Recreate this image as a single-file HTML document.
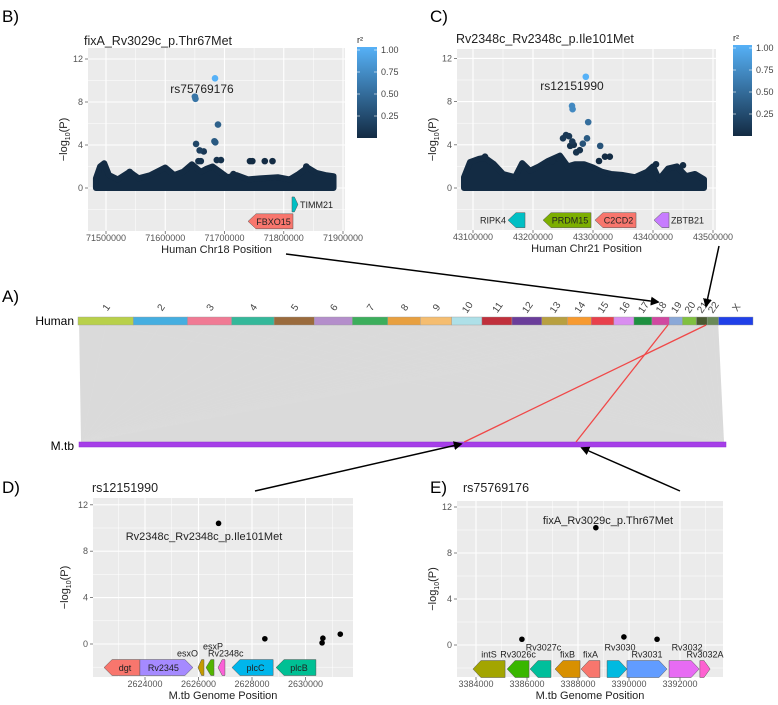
<!DOCTYPE html>
<html><head><meta charset="utf-8">
<style>
html,body{margin:0;padding:0;background:#fff;}
svg{display:block;font-family:"Liberation Sans",sans-serif;}
</style></head>
<body>
<svg id="fig" width="778" height="705" viewBox="0 0 778 705" xmlns="http://www.w3.org/2000/svg">
<defs>
<linearGradient id="cbar" x1="0" y1="1" x2="0" y2="0">
<stop offset="0" stop-color="#132b43"/><stop offset="1" stop-color="#56b1f7"/>
</linearGradient>
<marker id="ah" viewBox="0 0 10 10" refX="8" refY="5" markerWidth="6" markerHeight="6" orient="auto-start-reverse">
<path d="M0,0 L10,5 L0,10 z" fill="#000"/>
</marker>
</defs>
<g id="panelA"></g>
<g id="panels"></g>
<g id="arrows"></g>
</svg>
<script>
// ---------- DATA ----------
const chromNames = ["1","2","3","4","5","6","7","8","9","10","11","12","13","14","15","16","17","18","19","20","21","22","X"];
const chromLengthsMb = [249,243,198,191,181,171,159,146,141,136,135,134,115,107,102,90,81,78,59,63,48,51,155];
const chromColors = ["#b8d04a","#45aee0","#f07a94","#34b89a","#9a6b3d","#b48ecb","#3cae5c","#e8a040","#f5bd70","#aee0e8","#c0303c","#6a3d9a","#b8a040","#f79a30","#e8404c","#d98ef0","#1e9040","#d048a0","#8aa8d8","#80c040","#4a5a30","#6a8a58","#2040e8"];
const mtbGenomeLength = 4411532;
// highlighted links: [chromIndex, human pos Mb, M.tb pos]
const highlightLinks = [[17,71.7,3388700],[20,43.29,2626750]];

// Panel B (chr18)
const bBand = [[71483000,0.9],[71490000,2.0],[71497000,2.3],[71505000,1.2],[71520000,0.8],[71540000,1.5],[71555000,0.9],[71575000,1.2],[71600000,1.9],[71615000,1.2],[71630000,1.5],[71645000,2.2],[71660000,1.5],[71670000,1.8],[71680000,2.0],[71690000,1.6],[71705000,1.0],[71720000,1.2],[71740000,0.8],[71760000,0.9],[71790000,1.0],[71810000,0.8],[71825000,1.3],[71840000,1.9],[71855000,1.4],[71870000,1.2],[71884000,1.1]];
const bPos = [71684000,71650000,71651000,71689000,71683000,71684500,71652000,71658000,71665000,71656000,71660000,71687000,71694000,71743000,71747000,71768000,71781000,71715000,71540000,71838000];
const bLogP = [10.2,8.5,8.3,5.9,4.35,4.25,4.1,3.5,3.4,2.5,2.5,2.6,2.6,2.5,2.5,2.5,2.5,1.3,1.5,2.0];
const bR2 = [1.0,0.55,0.55,0.4,0.35,0.35,0.2,0.15,0.1,0.05,0.05,0.05,0.05,0,0,0,0,0,0,0];
const bGenes = [["TIMM21",71813900,71824000,"+","#00bfc4",-1.53,"right"],["FBXO15",71739700,71815600,"-","#f8766d",-3.1,"in"]];
const bXTicks = [71500000,71600000,71700000,71800000,71900000];

// Panel C (chr21)
const cBand = [[43085000,1.0],[43095000,2.4],[43110000,2.7],[43120000,2.8],[43135000,2.2],[43150000,1.3],[43170000,1.0],[43182000,2.3],[43195000,1.6],[43210000,2.0],[43225000,2.5],[43245000,3.0],[43258000,2.0],[43270000,2.2],[43285000,2.2],[43300000,1.9],[43315000,1.5],[43330000,1.3],[43350000,1.2],[43370000,1.0],[43390000,1.5],[43400000,2.0],[43410000,0.8],[43425000,1.8],[43440000,2.0],[43455000,1.1],[43470000,1.3],[43485000,0.8]];
const cPos = [43288000,43265000,43266000,43292000,43290000,43283000,43312000,43250000,43255000,43260000,43265500,43262000,43272000,43278000,43268000,43243000,43232000,43320000,43328000,43310000,43120000,43405000,43450000];
const cLogP = [10.3,7.6,7.3,6.1,4.6,4.1,3.9,4.6,4.9,4.8,4.3,3.9,3.3,3.5,4.0,2.7,2.5,2.9,2.9,2.5,2.9,2.2,2.1];
const cR2 = [1.0,0.7,0.7,0.5,0.35,0.3,0.3,0.1,0.1,0.1,0.1,0.05,0.05,0.05,0.05,0,0,0,0,0,0,0,0];
const cGenes = [["RIPK4",43158300,43186700,"-","#00bfc4",-2.98,"left"],["PRDM15",43216700,43296700,"-","#7cae00",-2.98,"in"],["C2CD2",43303300,43371700,"-","#f8766d",-2.98,"in"],["ZBTB21",43401700,43426700,"-","#c77cff",-2.98,"right"]];
const cXTicks = [43100000,43200000,43300000,43400000,43500000];

// Panel D (M.tb around Rv2348c)
const dPos = [2626750,2628480,2630620,2630650,2631300];
const dLogP = [10.4,0.45,0.1,0.5,0.85];
const dGenes = [["dgt",2622470,2623810,"-","#f8766d",-2.03,"in"],["Rv2345",2623810,2625790,"+","#a58aff",-2.03,"in"],["esxO",2625980,2626205,"-","#c49a00",-2.03,"aboveL"],["esxP",2626280,2626580,"-","#53b400",-2.03,"above2"],["Rv2348c",2626730,2626990,"-","#fb61d7",-2.03,"aboveR"],["plcC",2627250,2628790,"-","#00b6eb",-2.03,"in"],["plcB",2628900,2630390,"-","#00c094",-2.03,"in"]];
const dXTicks = [2624000,2626000,2628000,2630000];

// Panel E (M.tb around fixA)
const ePos = [3388700,3385800,3389800,3391100];
const eLogP = [10.2,0.5,0.7,0.5];
const eGenes = [["intS",3383880,3385140,"-","#a3a500",-2.09,"above"],["Rv3026c",3385220,3386080,"-","#39b600",-2.09,"above"],["Rv3027c",3386120,3386940,"-","#00bf9b",-2.09,"above2"],["fixB",3387100,3388080,"-","#d89000",-2.09,"above"],["fixA",3388120,3388860,"-","#f8766d",-2.09,"above"],["Rv3030",3389140,3389920,"+","#00bae0",-2.09,"above2"],["Rv3031",3389920,3391490,"+","#619cff",-2.09,"above"],["Rv3032",3391570,3392750,"+","#e76bf3",-2.09,"above2"],["Rv3032A",3392780,3393180,"+","#fd61d1",-2.09,"above"]];
const eXTicks = [3384000,3386000,3388000,3390000,3392000];

const yTicks = [0,4,8,12];
const cbTicks = [0.25,0.5,0.75,1.0];

// ---------- DRAWING ----------
const NS="http://www.w3.org/2000/svg";
function mk(tag,attrs,parent,text){const e=document.createElementNS(NS,tag);for(const k in attrs)e.setAttribute(k,attrs[k]);if(text!==undefined)e.textContent=text;parent.appendChild(e);return e;}
function lerpColor(t){const a=[0x13,0x2b,0x43],b=[0x56,0xb1,0xf7];return "rgb("+a.map((v,i)=>Math.round(v+(b[i]-v)*t)).join(",")+")";}

// Panel A
const A=document.getElementById("panelA");
const hx0=78,hx1=753,hy=317,hh=8,mx0=79,mx1=726,my=442,mh=5;
const totalMb=chromLengthsMb.reduce((s,v)=>s+v,0);
function hX(ci,mb){let s=0;for(let i=0;i<ci;i++)s+=chromLengthsMb[i];return hx0+(s+mb)/totalMb*(hx1-hx0);}
function mX(p){return mx0+p/mtbGenomeLength*(mx1-mx0);}
let t=mk("text",{x:2,y:302,"font-size":17,fill:"#000"},A,"A)");


let lab=mk("text",{x:74,y:325,"font-size":12,"text-anchor":"end",fill:"#000"},A,"Human");


lab=mk("text",{x:74,y:450,"font-size":12,"text-anchor":"end",fill:"#000"},A,"M.tb");


// link mass
const mass=mk("polygon",{points:`${hX(0,5)},${hy+hh} ${hX(21,50)},${hy+hh} ${mx1-2},${my} ${mx0+2},${my}`,fill:"#dadada"},A);


for(let i=0;i<chromNames.length-1;i++){
  const x=hX(i,chromLengthsMb[i]/2);
  const l1=mk("line",{x1:x,y1:hy+hh,x2:mx0+3,y2:my,stroke:"#dcdcdc","stroke-width":1,opacity:0.7},A);
  
  
  const l2=mk("line",{x1:x,y1:hy+hh,x2:mx1-3,y2:my,stroke:"#dcdcdc","stroke-width":1,opacity:0.7},A);
  
  
}
// chromosomes
for(let i=0;i<chromNames.length;i++){
  const x0=hX(i,0),x1=hX(i,chromLengthsMb[i]);
  const r=mk("rect",{x:x0,y:hy,width:x1-x0,height:hh,fill:chromColors[i],stroke:"#999","stroke-width":0.4},A);
  
  
  const cx=(x0+x1)/2;
  const tl=mk("text",{x:cx,y:311,"font-size":10,"text-anchor":"middle",fill:"#444",transform:`rotate(-55 ${cx} 307)`},A,chromNames[i]);
  
  
}
const mb=mk("rect",{x:mx0,y:my,width:mx1-mx0,height:mh,fill:"#a63ee8",stroke:"#8a2fd0","stroke-width":0.5},A);


highlightLinks.forEach(h=>{
  const ln=mk("line",{x1:hX(h[0],h[1]),y1:hy+hh,x2:mX(h[2]),y2:my,stroke:"#f04848","stroke-width":1.3},A);
  
  
});

// regional panels
const P=document.getElementById("panels");
function panel(cfg){
  const g=mk("g",{},P);
  
  
  const X=v=>cfg.x0+(v-cfg.t0)/cfg.dt*cfg.pxPerTick;
  const Y=v=>cfg.y0-v*cfg.pyPerUnit;
  const [L,R,T,B]=cfg.rect;
  const bg=mk("rect",{x:L,y:T,width:R-L,height:B-T,fill:"#ebebeb"},g);
  
  
  // grid
  const yAll=[-2,0,2,4,6,8,10,12];
  yAll.forEach(v=>{const yy=Y(v);if(yy<T||yy>B)return;mk("line",{x1:L,x2:R,y1:yy,y2:yy,stroke:"#fff","stroke-width":v%4===0?1.1:0.5},g);});
  cfg.xticks.forEach((v,i)=>{const xx=X(v);if(xx>=L&&xx<=R)mk("line",{x1:xx,x2:xx,y1:T,y2:B,stroke:"#fff","stroke-width":1.1},g);
    const xm=X(v-cfg.dt/2);if(xm>=L&&xm<=R)mk("line",{x1:xm,x2:xm,y1:T,y2:B,stroke:"#fff","stroke-width":0.5},g);});
  const xl=X(cfg.xticks[cfg.xticks.length-1]+cfg.dt/2);if(xl<=R)mk("line",{x1:xl,x2:xl,y1:T,y2:B,stroke:"#fff","stroke-width":0.5},g);
  // y ticks
  yTicks.forEach(v=>{const yy=Y(v);
    mk("line",{x1:L-3,x2:L,y1:yy,y2:yy,stroke:"#666","stroke-width":0.8},g);
    const tt=mk("text",{x:L-5,y:yy+3,"font-size":9,"text-anchor":"end",fill:"#555"},g,String(v));
    
    });
  cfg.xticks.forEach(v=>{const xx=X(v);
    mk("line",{x1:xx,x2:xx,y1:B,y2:B+3,stroke:"#666","stroke-width":0.8},g);
    const tt=mk("text",{x:xx,y:B+10,"font-size":9,"text-anchor":"middle",fill:"#555"},g,String(v));
    
    });
  // axis titles
  const xt=mk("text",{x:(L+R)/2,y:B+22,"font-size":11,"text-anchor":"middle",fill:"#222"},g,cfg.xtitle);
  
  
  const yc=(T+B)/2,yx=cfg.ytitleX;
  const yt=mk("text",{x:yx,y:yc,"font-size":11,"text-anchor":"middle",fill:"#222",transform:`rotate(-90 ${yx} ${yc})`},g);
  
  
  mk("tspan",{},yt,"\u2212log");mk("tspan",{"font-size":7,dy:3},yt,"10");mk("tspan",{dy:-3},yt,"(P)");
  // panel label & title
  const pl=mk("text",{x:cfg.letterXY[0],y:cfg.letterXY[1],"font-size":17,fill:"#000"},g,cfg.letter);
  
  
  const ti=mk("text",{x:cfg.titleXY[0],y:cfg.titleXY[1],"font-size":12.5,fill:"#222"},g,cfg.title);
  
  
  // band
  if(cfg.band){
    let pts=cfg.band.map(b=>X(b[0])+","+Y(b[1]));
    pts.push(X(cfg.band[cfg.band.length-1][0])+","+Y(0));pts.push(X(cfg.band[0][0])+","+Y(0));
    const bd=mk("polygon",{points:pts.join(" "),fill:"#132b43",stroke:"#132b43","stroke-width":6,"stroke-linejoin":"round"},g);
    
    
  }
  // points (draw low r2 first)
  const idx=cfg.pos.map((_,i)=>i).sort((a,b)=>(cfg.r2?cfg.r2[a]-cfg.r2[b]:0));
  idx.forEach(i=>{
    const c=mk("circle",{cx:X(cfg.pos[i]),cy:Y(cfg.logp[i]),r:cfg.r,fill:cfg.r2?lerpColor(cfg.r2[i]):"#000"},g);
    
    
  });
  const an=mk("text",{x:cfg.annot[0],y:cfg.annot[1],"font-size":cfg.annot[3]||11,"text-anchor":"middle",fill:"#222"},g,cfg.annot[2]);
  
  
  // genes
  cfg.genes.forEach(gn=>{
    const [name,s,e,strand,col,lvl,mode]=gn;
    const x0=X(s),x1=X(e),yc2=Y(lvl),h=cfg.gh/2,w=x1-x0,head=Math.min(8,w*0.6);
    let pts;
    if(strand==="-")pts=`${x0},${yc2} ${x0+head},${yc2-h} ${x1},${yc2-h} ${x1},${yc2+h} ${x0+head},${yc2+h}`;
    else pts=`${x1},${yc2} ${x1-head},${yc2-h} ${x0},${yc2-h} ${x0},${yc2+h} ${x1-head},${yc2+h}`;
    const gp=mk("polygon",{points:pts,fill:col,stroke:"#555","stroke-width":0.5},g);
    
    
    let tx,ty,anc="middle";
    if(mode==="in"){tx=(x0+x1)/2+(strand==="-"?3:-3);ty=yc2+3.5;}
    else if(mode==="right"){tx=x1+2;ty=yc2+3.5;anc="start";}
    else if(mode==="left"){tx=x0-2;ty=yc2+3.5;anc="end";}
    else if(mode==="aboveL"){tx=x0;ty=yc2-h-3;anc="end";}
    else if(mode==="aboveR"){tx=x0-10;ty=yc2-h-3;anc="start";}
    else if(mode==="above2"){tx=(x0+x1)/2+3;ty=yc2-h-10;}
    else {tx=(x0+x1)/2;ty=yc2-h-3;}
    const gt=mk("text",{x:tx,y:ty,"font-size":9,"text-anchor":anc,fill:"#222"},g,name);
    
    
  });
  // colorbar
  if(cfg.cbar){
    const [cx,cy,cw,ch]=cfg.cbar;
    const cb=mk("rect",{x:cx,y:cy,width:cw,height:ch,fill:"url(#cbar)"},g);
    
    
    const r2t=mk("text",{x:cx,y:cy-4,"font-size":9,fill:"#222"},g,"r\u00b2");
    
    
    cbTicks.forEach(v=>{const yy=cy+ch-v*(ch-3);
      mk("line",{x1:cx,x2:cx+3,y1:yy,y2:yy,stroke:"#fff","stroke-width":0.6},g);
      mk("line",{x1:cx+cw-3,x2:cx+cw,y1:yy,y2:yy,stroke:"#fff","stroke-width":0.6},g);
      const lt=mk("text",{x:cx+cw+4,y:yy+3,"font-size":9,fill:"#444"},g,v.toFixed(2));
      
      });
  }
}
panel({name:"panel-b-chr18",letter:"B)",letterXY:[2,22],title:"fixA_Rv3029c_p.Thr67Met",titleXY:[84,45],
  rect:[88,345,48,231],x0:106,t0:71500000,dt:100000,pxPerTick:59.25,y0:188,pyPerUnit:10.75,
  xticks:bXTicks,xtitle:"Human Chr18 Position",ytitleX:67,band:bBand,pos:bPos,logp:bLogP,r2:bR2,r:3.3,
  annot:[202,93,"rs75769176",12],genes:bGenes,gh:15,cbar:[357,47,20,91]});
panel({name:"panel-c-chr21",letter:"C)",letterXY:[430,22],title:"Rv2348c_Rv2348c_p.Ile101Met",titleXY:[456,43],
  rect:[457,716,49,230],x0:473,t0:43100000,dt:100000,pxPerTick:60,y0:188,pyPerUnit:10.8,
  xticks:cXTicks,xtitle:"Human Chr21 Position",ytitleX:436,band:cBand,pos:cPos,logp:cLogP,r2:cR2,r:3.3,
  annot:[572,90,"rs12151990",12],genes:cGenes,gh:15,cbar:[733,45,19,91]});
panel({name:"panel-d-rv2348c",letter:"D)",letterXY:[2,493],title:"rs12151990",titleXY:[92,492],
  rect:[93,353,498,677],x0:145,t0:2624000,dt:2000,pxPerTick:53.5,y0:644,pyPerUnit:11.6,
  xticks:dXTicks,xtitle:"M.tb Genome Position",ytitleX:68,pos:dPos,logp:dLogP,r:2.8,
  annot:[204,540,"Rv2348c_Rv2348c_p.Ile101Met",11],genes:dGenes,gh:16});
panel({name:"panel-e-fixa",letter:"E)",letterXY:[430,493],title:"rs75769176",titleXY:[463,492],
  rect:[457,723,501,677],x0:476,t0:3384000,dt:2000,pxPerTick:51,y0:645,pyPerUnit:11.5,
  xticks:eXTicks,xtitle:"M.tb Genome Position",ytitleX:436,pos:ePos,logp:eLogP,r:2.8,
  annot:[608,524,"fixA_Rv3029c_p.Thr67Met",11],genes:eGenes,gh:17});

// arrows
const AR=document.getElementById("arrows");
[[286,254,658,302],[719,246,706,306],[255,491,461,444],[680,491,582,448]].forEach(a=>{
  const l=mk("line",{x1:a[0],y1:a[1],x2:a[2],y2:a[3],stroke:"#000","stroke-width":1.5,"marker-end":"url(#ah)"},AR);
  
  
});
</script>
</body></html>
